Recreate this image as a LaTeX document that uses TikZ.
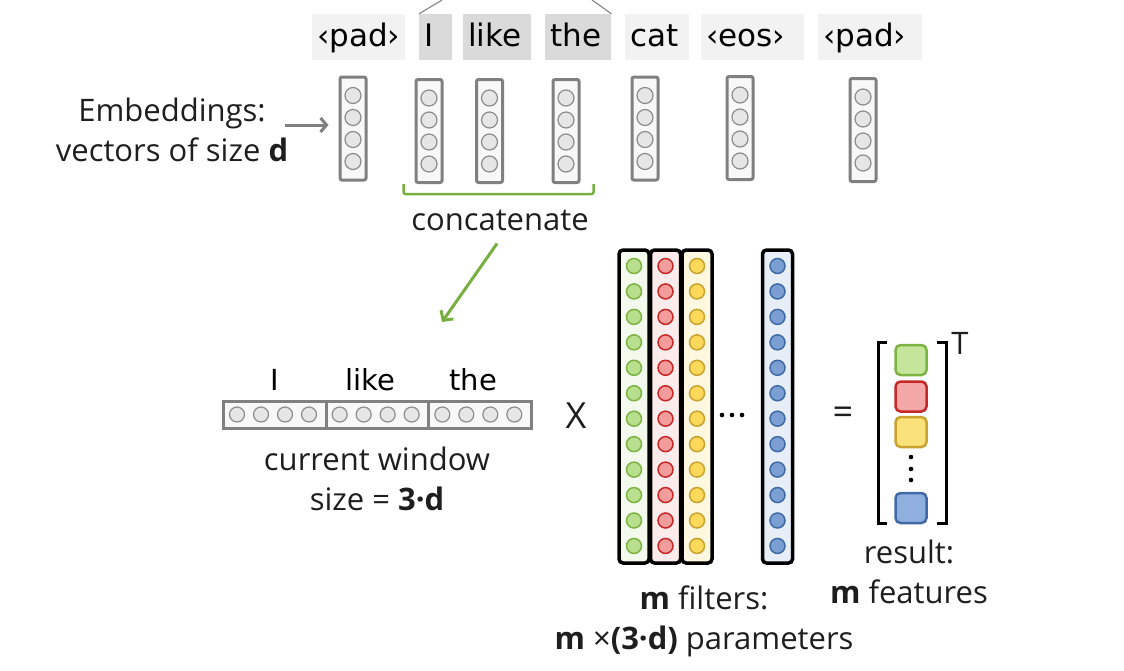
\documentclass[tikz,border=0pt]{standalone}
\usepackage{fontspec}
\setmainfont{Open Sans}
\newfontfamily\tokfont{DejaVu Sans}
\usetikzlibrary{calc,positioning,arrows.meta}
\definecolor{tokl}{HTML}{F2F2F2}
\definecolor{tokd}{HTML}{DADADA}
\definecolor{vecgray}{HTML}{808080}
\definecolor{vecfill}{HTML}{F8F8F8}
\definecolor{cellfill}{HTML}{E6E6E6}
\definecolor{cellline}{HTML}{8C8C8C}
\definecolor{textc}{HTML}{1E1E1E}
\definecolor{concatgreen}{HTML}{77B041}
\definecolor{fgreen}{HTML}{F3F9EC}
\definecolor{fred}{HTML}{FCEBEB}
\definecolor{fyellow}{HTML}{FFF8E1}
\definecolor{fblue}{HTML}{E8EEF8}
\definecolor{cgreen}{HTML}{B8DF8E}
\definecolor{cred}{HTML}{F29C9C}
\definecolor{cyellow}{HTML}{FCD95B}
\definecolor{cblue}{HTML}{7B9FD3}
\definecolor{dgreen}{HTML}{7CB342}
\definecolor{dred}{HTML}{C62828}
\definecolor{dyellow}{HTML}{C9A230}
\definecolor{dblue}{HTML}{3F6AA6}
\definecolor{rgreen}{HTML}{C5E59A}
\definecolor{rred}{HTML}{F4A7A7}
\definecolor{ryellow}{HTML}{FBE17A}
\definecolor{rblue}{HTML}{8FB0DE}
\tikzset{
	tok/.style={fill=#1, anchor=west, minimum height=46pt, inner xsep=5pt, inner ysep=0pt, align=left, text height=24pt, text depth=6pt, text=black, font=\tokfont\fontsize{31}{34}\selectfont},
	embvec/.style={draw=vecgray, fill=vecfill, line width=3pt, rounded corners=2pt, minimum width=26pt, minimum height=103pt, inner sep=0pt},
	winseg/.style={draw=vecgray, fill=vecfill, line width=3pt, anchor=west, minimum width=102.67pt, minimum height=27pt, inner sep=0pt},
	cell/.style={draw=cellline, fill=cellfill, line width=1.2pt},
	wlab/.style={inner sep=0pt, text height=22pt, text depth=6pt, text=black, font=\tokfont\fontsize{29}{32}\selectfont},
	txt/.style={text=textc, inner sep=3pt, font=\fontsize{31}{40}\selectfont},
	big/.style={text=textc, inner sep=3pt, font=\fontsize{36}{40}\selectfont},
	filt/.style={draw=black, line width=3.5pt, rounded corners=4pt, minimum width=30pt, minimum height=313pt, inner sep=0pt},
	res/.style={line width=2.5pt, rounded corners=5pt, minimum width=31pt, minimum height=30pt, inner sep=0pt},
	bracket/.style={draw=black, line width=3pt},
	capline/.style={draw=cellline, line width=1.2pt},
	brace/.style={draw=concatgreen, line width=2.5pt, rounded corners=2pt},
	grayarrow/.style={draw=vecgray, line width=3pt, -{Straight Barb[length=6pt,width=14pt]}},
	greenarrow/.style={draw=concatgreen, line width=3pt, -{Straight Barb[length=7pt,width=15pt]}}
}

\begin{document}
\begin{tikzpicture}[x=1pt, y=-1pt]
	%%%%% START %%%%%
	\useasboundingbox (0, 0) rectangle (1124, 670);
	
	\foreach \n/\x/\w/\s/\t in {t1/312/83/tokl/‹pad›, t2/419/23/tokd/I, t3/463/58/tokd/like, t4/545/56/tokd/the, t5/625/54/tokl/cat, t6/701/93/tokl/‹eos›, t7/818/94/tokl/‹pad›}
		\node[tok=\s, text width=\w pt] (\n) at (\x, 37) {\t};
	
	\coordinate (capl) at (442, 0);
	\coordinate (capr) at (592, 0);
	\draw[capline] (t2.north west) -- (capl);
	\draw[capline] (t4.north east) -- (capr);
	
	\foreach \n/\x/\y in {e1/353/128.5, e2/429/131, e3/489.5/131, e4/566/131, e5/645/128.5, e6/740/128, e7/863/130} {
		\node[embvec] (\n) at (\x, \y) {};
		\foreach \dy in {-33, -11, 11, 33}
			\draw[cell] (\x, \y+\dy) circle (8);
	}
	
	\node[txt, align=center] (emb) at (172, 130) {Embeddings:\\vectors of size \textbf{d}};
	\draw[grayarrow] ($(emb.east)+(-6, -5)$) -- ($(e1.west)+(-10, -3.5)$);
	
	\draw[brace] ($(e2.south west)+(-11, 0)$) -- ++(0, 10) -| ($(e4.south east)+(13, 0)$);
	\node[txt] (concat) at (500, 220) {concatenate};
	\coordinate (ctip) at (442, 322);
	\draw[greenarrow] ($(concat.south)+(-3, 10)$) -- (ctip);
	
	\foreach \n/\x in {w1/222, w2/324.67, w3/427.33} {
		\node[winseg] (\n) at (\x, 414.5) {};
		\foreach \i in {0, ..., 3}
			\draw[cell] (\x+15+24*\i, 414.5) circle (7.5);
	}
	\node[wlab, above=3pt of w1] (l1) {I};
	\node[wlab, above=3pt of w2, xshift=-7pt] (l2) {like};
	\node[wlab, above=3pt of w3, xshift=-7pt] (l3) {the};
	\node[txt, align=center] (wincap) at (377, 479) {current window\\size = \textbf{3·d}};
	
	\node[big] (times) at (576, 416) {X};
	
	\foreach \n/\x/\fc/\cc/\dc in {f1/634/fgreen/cgreen/dgreen, f2/665.5/fred/cred/dred, f3/697/fyellow/cyellow/dyellow, f4/777.5/fblue/cblue/dblue} {
		\node[filt, fill=\fc] (\n) at (\x, 406.5) {};
		\foreach \k in {0, ..., 11}
			\draw[line width=1.5pt, draw=\dc, fill=\cc] (\x, 266+25.45*\k) circle (7.5);
	}
	\foreach \x in {722, 732, 742}
		\fill (\x, 415) circle (2.3);
	\node[txt, align=center] (filtcap) at (704, 621) {\textbf{m} filters:\\\textbf{m} ×\textbf{(3·d)} parameters};
	
	\node[big] (eq) at (843, 416) {=};
	
	\foreach \n/\y/\fc/\dc in {r1/360/rgreen/dgreen, r2/396.5/rred/dred, r3/432/ryellow/dyellow, r4/508/rblue/dblue}
		\node[res, fill=\fc, draw=\dc] (\n) at (911, \y) {};
	\foreach \y in {457, 469, 480}
		\fill (911, \y) circle (2.3);
	\draw[bracket] (887, 342) -| (878, 523) -- (887, 523);
	\draw[bracket] (937, 342) -| (946, 523) -- (937, 523);
	\node[txt] (tr) at (960, 343) {T};
	\node[txt, align=center] (rescap) at (909, 572) {result:\\\textbf{m} features};
	%%%%% END %%%%%
\end{tikzpicture}
\end{document}
